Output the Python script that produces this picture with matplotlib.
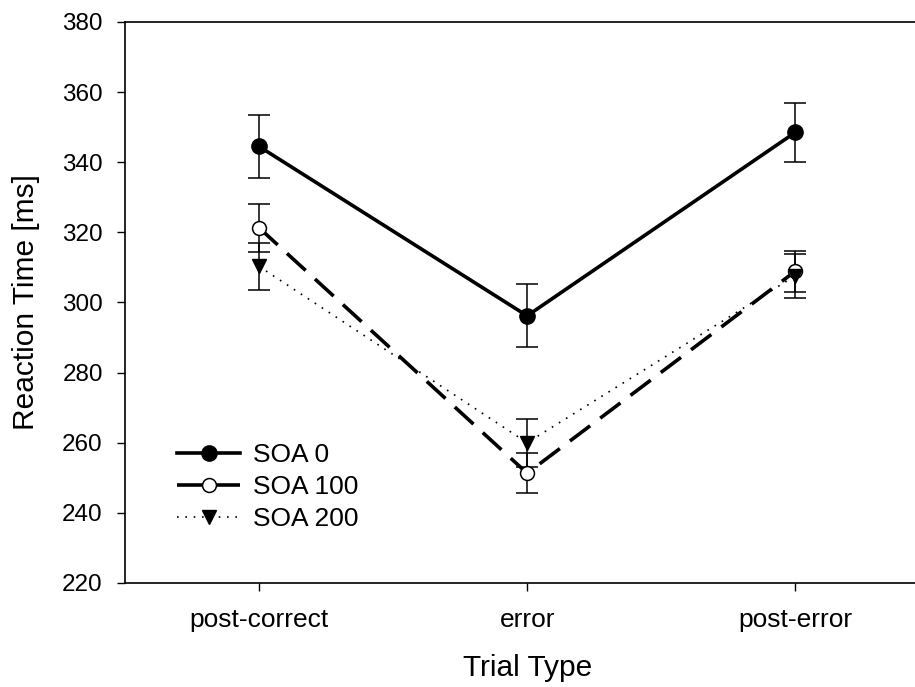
import numpy as np
import matplotlib
matplotlib.use('Agg')
import matplotlib.pyplot as plt
from matplotlib.lines import Line2D

plt.rcParams['font.family'] = ['Liberation Sans', 'DejaVu Sans']

trial_types = ['post-correct', 'error', 'post-error']
soa0 = [344.5, 296.2, 348.5]
soa0_err = [9.0, 9.0, 8.3]
soa100 = [321.3, 251.3, 308.9]
soa100_err = [6.8, 5.7, 5.8]
soa200 = [310.3, 260.0, 307.6]
soa200_err = [6.6, 6.8, 6.2]

fig = plt.figure(figsize=(9.15, 6.87), dpi=100)
ax = fig.add_axes([0.1366, 0.1514, 0.879, 0.8166])
x = np.arange(len(trial_types))

styles = [
    dict(lw=2.6, ls='-', marker='o', ms=11, mfc='black', mec='black'),
    dict(lw=2.6, ls=(0, (7, 3.5)), marker='o', ms=10, mfc='white', mec='black', mew=1.1),
    dict(lw=1.2, ls=(0, (1, 4)), marker='v', ms=10, mfc='black', mec='black'),
]
series = [soa0, soa100, soa200]
errs = [soa0_err, soa100_err, soa200_err]
labels = ['SOA 0', 'SOA 100', 'SOA 200']

handles = []
for y, e, st, lab in zip(series, errs, styles, labels):
    ax.errorbar(x, y, yerr=e, color='black', ecolor='black',
                elinewidth=1.1, capsize=8, capthick=1.1, **st)
    handles.append(Line2D([], [], color='black', label=lab, **st))

ax.set_xlim(-0.5, 2.5)
ax.set_ylim(220, 380)
ax.set_yticks(np.arange(220, 381, 20))
ax.set_xticks(x)
ax.set_xticklabels(trial_types)
ax.tick_params(axis='both', direction='out', length=6, width=1, pad=10)
ax.tick_params(axis='y', labelsize=17.5)
ax.tick_params(axis='x', labelsize=19, pad=12)
for s in ['left', 'bottom', 'top']:
    ax.spines[s].set_linewidth(1.2)
ax.spines['right'].set_visible(False)

ax.set_xlabel('Trial Type', fontsize=21.5, labelpad=16)
ax.set_ylabel('Reaction Time [ms]', fontsize=21.5, labelpad=16)

ax.legend(handles=handles, loc='lower left', bbox_to_anchor=(0.035, 0.05), frameon=False,
          fontsize=19, handlelength=2.4, handletextpad=0.5, labelspacing=0.3)

fig.savefig('out.png', dpi=100)
